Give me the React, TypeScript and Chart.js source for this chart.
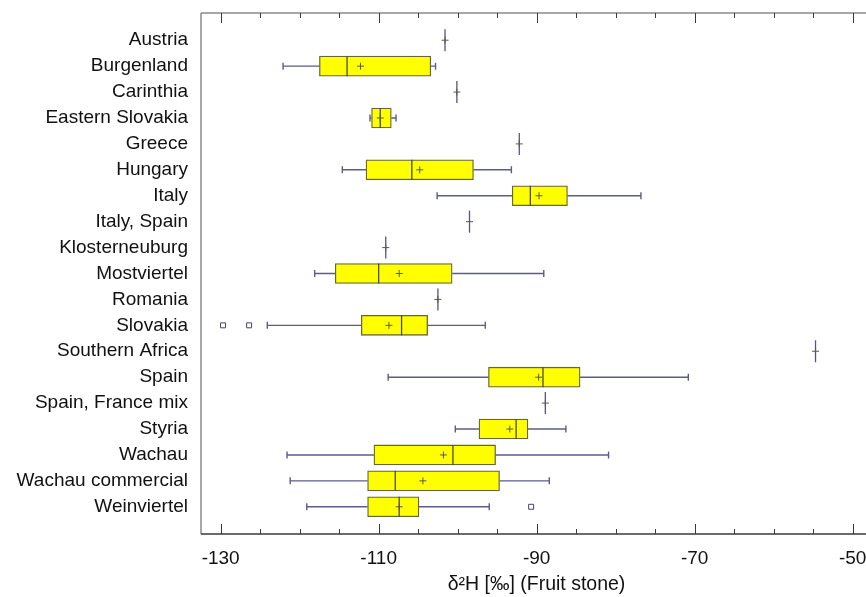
import { useEffect, useRef } from "react";
import { Chart, registerables } from "chart.js";

Chart.register(...registerables);

const categories = [
  "Austria",
  "Burgenland",
  "Carinthia",
  "Eastern Slovakia",
  "Greece",
  "Hungary",
  "Italy",
  "Italy, Spain",
  "Klosterneuburg",
  "Mostviertel",
  "Romania",
  "Slovakia",
  "Southern Africa",
  "Spain",
  "Spain, France mix",
  "Styria",
  "Wachau",
  "Wachau commercial",
  "Weinviertel",
];

const whiskerLow = [-101.6, -122.1, -100.1, -111.1, -92.2, -114.6, -102.6, -98.5, -109.1, -118.1, -102.5, -124.1, -54.7, -108.8, -88.9, -100.3, -121.6, -121.2, -119.1];
const q1 = [-101.6, -117.5, -100.1, -110.9, -92.2, -111.6, -93.1, -98.5, -109.1, -115.5, -102.5, -112.2, -54.7, -96.1, -88.9, -97.3, -110.6, -111.4, -111.4];
const median = [-101.6, -114.0, -100.1, -109.8, -92.2, -105.8, -90.8, -98.5, -109.1, -110.0, -102.5, -107.1, -54.7, -89.2, -88.9, -92.6, -100.6, -107.9, -107.4];
const q3 = [-101.6, -103.4, -100.1, -108.4, -92.2, -98.0, -86.1, -98.5, -109.1, -100.7, -102.5, -103.8, -54.7, -84.5, -88.9, -91.1, -95.2, -94.7, -104.9];
const whiskerHigh = [-101.6, -102.8, -100.1, -107.8, -92.2, -93.2, -76.8, -98.5, -109.1, -89.1, -102.5, -96.5, -54.7, -70.8, -88.9, -86.3, -80.9, -88.4, -96.0];
const mean = [-101.6, -112.3, -100.1, -109.8, -92.2, -104.8, -89.7, -98.5, -109.1, -107.4, -102.5, -108.7, -54.7, -89.75, -88.9, -93.4, -101.8, -104.4, -107.4];

const outlierCategories = ["Slovakia", "Slovakia", "Weinviertel"];
const outlierValues = [-129.7, -126.4, -90.7];

const xTickLabels = [-130, -110, -90, -70, -50];
const xMinorStep = 5;
const xTitle = "δ²H [‰] (Fruit stone)";

const X_MIN = -132.49;
const X_MAX = -47.55;
const FONT = "'Liberation Sans', Arial, sans-serif";

const isSingle = (i: number) => q1[i] === q3[i];

const boxPlugin = {
  id: "boxExtras",
  beforeDatasetsDraw(chart: any) {
    const { ctx, scales } = chart;
    const xs = scales.x;
    const ys = scales.y;
    ctx.save();
    ctx.strokeStyle = "#5c5c86";
    ctx.lineWidth = 1.4;
    categories.forEach((_, i) => {
      if (isSingle(i)) return;
      const y = ys.getPixelForValue(i);
      const xl = xs.getPixelForValue(whiskerLow[i]);
      const xq1 = xs.getPixelForValue(q1[i]);
      const xq3 = xs.getPixelForValue(q3[i]);
      const xh = xs.getPixelForValue(whiskerHigh[i]);
      ctx.beginPath();
      ctx.moveTo(xl, y);
      ctx.lineTo(xq1, y);
      ctx.moveTo(xq3, y);
      ctx.lineTo(xh, y);
      ctx.moveTo(xl, y - 3.5);
      ctx.lineTo(xl, y + 3.5);
      ctx.moveTo(xh, y - 3.5);
      ctx.lineTo(xh, y + 3.5);
      ctx.stroke();
    });
    ctx.restore();
  },
  afterDraw(chart: any) {
    const { ctx, chartArea, scales } = chart;
    const xs = scales.x;
    const { left, right, top, bottom } = chartArea;
    ctx.save();
    ctx.lineWidth = 1.5;
    ctx.strokeStyle = "#8a8a8a";
    ctx.beginPath();
    ctx.moveTo(left, top);
    ctx.lineTo(right, top);
    ctx.moveTo(left, top);
    ctx.lineTo(left, bottom);
    ctx.stroke();
    ctx.strokeStyle = "#3a3a3a";
    ctx.beginPath();
    ctx.moveTo(left, bottom);
    ctx.lineTo(right, bottom);
    ctx.stroke();
    ctx.lineWidth = 1;
    ctx.strokeStyle = "#3a3a3a";
    const first = xTickLabels[0];
    const last = xTickLabels[xTickLabels.length - 1];
    const majorStep = xTickLabels[1] - xTickLabels[0];
    ctx.beginPath();
    for (let v = first; v <= last + 1e-9; v += xMinorStep) {
      const isMajor = Math.abs((v - first) % majorStep) < 1e-9;
      const len = isMajor ? 10 : 5;
      const x = Math.round(xs.getPixelForValue(v)) + 0.5;
      ctx.moveTo(x, top);
      ctx.lineTo(x, top + len);
      ctx.moveTo(x, bottom);
      ctx.lineTo(x, bottom - len);
    }
    ctx.stroke();
    ctx.restore();
  },
};

export default function App() {
  const ref = useRef<HTMLCanvasElement | null>(null);

  useEffect(() => {
    document.body.style.margin = "0";
    const canvas = ref.current;
    if (!canvas) return;

    const boxData = categories
      .map((_, i) => (isSingle(i) ? null : { x: [q1[i], q3[i]], y: i }))
      .filter((d) => d !== null);
    const medianData = categories
      .map((_, i) => (isSingle(i) ? null : { x: median[i], y: i }))
      .filter((d) => d !== null);
    const singleData = categories
      .map((_, i) => (isSingle(i) ? { x: median[i], y: i } : null))
      .filter((d) => d !== null);
    const meanData = categories.map((_, i) => ({ x: mean[i], y: i }));
    const outlierData = outlierValues.map((v, k) => ({
      x: v,
      y: categories.indexOf(outlierCategories[k]),
    }));

    const chart = new Chart(canvas, {
      type: "bar",
      data: {
        datasets: [
          {
            type: "bar",
            data: boxData as any,
            backgroundColor: "#ffff00",
            borderColor: "#66663a",
            borderWidth: 1.3,
            borderSkipped: false,
            barThickness: 20,
            order: 5,
          },
          {
            type: "scatter",
            data: medianData as any,
            pointStyle: "line",
            rotation: 90,
            radius: 10,
            borderColor: "#4a4a34",
            borderWidth: 1.3,
            order: 4,
          },
          {
            type: "scatter",
            data: singleData as any,
            pointStyle: "line",
            rotation: 90,
            radius: 11,
            borderColor: "#55557e",
            borderWidth: 1.3,
            order: 3,
          },
          {
            type: "scatter",
            data: meanData as any,
            pointStyle: "cross",
            radius: 3.5,
            borderColor: "#5a5a4a",
            borderWidth: 1,
            order: 2,
          },
          {
            type: "scatter",
            data: outlierData as any,
            pointStyle: "rect",
            radius: 3.5,
            backgroundColor: "#ffffff",
            borderColor: "#45456e",
            borderWidth: 1,
            order: 1,
          },
        ] as any,
      },
      options: {
        indexAxis: "y",
        animation: false,
        responsive: false,
        events: [],
        layout: { autoPadding: false, padding: { top: 13, left: 0, right: 0, bottom: 0 } },
        plugins: {
          legend: { display: false },
          tooltip: { enabled: false },
        },
        scales: {
          x: {
            type: "linear",
            position: "bottom",
            min: X_MIN,
            max: X_MAX,
            offset: false,
            grid: { display: false, drawTicks: false },
            border: { display: false },
            afterBuildTicks: (scale: any) => {
              scale.ticks = xTickLabels.map((v) => ({ value: v }));
            },
            afterFit: (scale: any) => {
              scale.height = 63;
              scale.paddingLeft = 0;
              scale.paddingRight = 0;
            },
            ticks: {
              autoSkip: false,
              maxRotation: 0,
              padding: 13,
              color: "#111111",
              font: { family: FONT, size: 19 },
              callback: (v: any) => String(v),
            },
            title: {
              display: true,
              text: xTitle,
              color: "#111111",
              font: { family: FONT, size: 19.5 },
              padding: { top: 0, bottom: 1 },
            },
          },
          y: {
            type: "linear",
            position: "left",
            reverse: true,
            min: -1.05,
            max: 19.05,
            offset: false,
            grid: { display: false, drawTicks: false },
            border: { display: false },
            afterBuildTicks: (scale: any) => {
              scale.ticks = categories.map((_, i) => ({ value: i }));
            },
            afterFit: (scale: any) => {
              scale.width = 201;
              scale.paddingTop = 0;
              scale.paddingBottom = 0;
            },
            ticks: {
              autoSkip: false,
              padding: 13,
              color: "#111111",
              font: { family: FONT, size: 19 },
              callback: (v: any) => categories[v as number] ?? "",
            },
          },
        },
      } as any,
      plugins: [boxPlugin],
    });

    return () => chart.destroy();
  }, []);

  return (
    <div style={{ width: 866, height: 597, overflow: "hidden", background: "#fff" }}>
      <div style={{ width: 872, height: 597 }}>
        <canvas ref={ref} width={872} height={597} style={{ display: "block" }} />
      </div>
    </div>
  );
}
